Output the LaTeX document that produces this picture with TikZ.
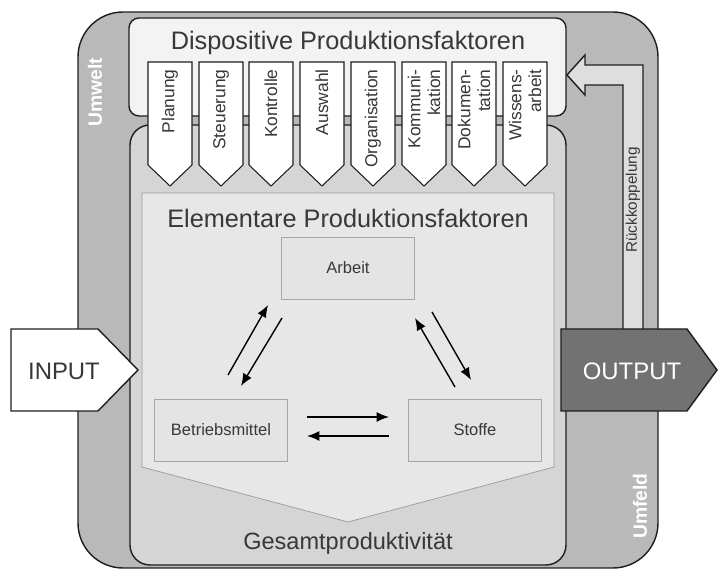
\documentclass[tikz,border=0pt]{standalone}
\usepackage{fontspec}
\setmainfont{Liberation Sans}
\usetikzlibrary{arrows.meta}
\definecolor{umwelt}{HTML}{B9B9B9}
\definecolor{dispo}{HTML}{F3F3F3}
\definecolor{inner}{HTML}{D5D5D5}
\definecolor{elem}{HTML}{E7E7E7}
\definecolor{elline}{HTML}{9A9A9A}
\definecolor{boxfill}{HTML}{E4E4E4}
\definecolor{boxline}{HTML}{A6A6A6}
\definecolor{outp}{HTML}{727272}
\definecolor{rueck}{HTML}{DEDEDE}
\definecolor{edge}{HTML}{1E1E1E}
\definecolor{txt}{HTML}{383838}

\begin{document}
\begin{tikzpicture}[x=0.02cm,y=-0.02cm]
\tikzstyle{every node}=[inner sep=0pt, text=txt]
\tikzstyle{frame}=[draw=edge, line width=0.8pt]
\tikzstyle{chev}=[draw=edge, line width=0.6pt, fill=white]
\tikzstyle{lbl}=[rotate=90, anchor=east, align=right, font=\fontsize{9.9}{11.3}\selectfont]
\tikzstyle{fbox}=[draw=boxline, fill=boxfill, minimum width=2.66cm, minimum height=1.24cm, font=\fontsize{9.4}{11}\selectfont]
\tikzstyle{title}=[font=\fontsize{14.4}{16}\selectfont]
\tikzstyle{pf}=[-{Latex[length=7pt,width=5.6pt]}, line width=0.8pt, draw=black]
\useasboundingbox (0,0) rectangle (718,570);
\draw[frame, fill=umwelt, rounded corners=0.9cm] (78,12) rectangle (658,568);
\draw[frame, fill=rueck] (623,329) -- (623,85) -- (585,85) -- (585,95) -- (567,75) -- (585,55) -- (585,65) -- (643,65) -- (643,329);
\draw[frame, fill=dispo, rounded corners=0.2cm] (129,18) rectangle (566,116);
\draw[frame, fill=inner, rounded corners=0.4cm] (130,125) rectangle (566,565);
\draw[draw=elline, line width=0.4pt, fill=elem] (142,193) -- (554,193) -- (554,467) -- (348,522) -- (142,467) -- cycle;
\draw[chev] (148,62) -- (192,62) -- (192,165) -- (170,186) -- (148,165) -- cycle;
\draw[chev] (199,62) -- (243,62) -- (243,165) -- (221,186) -- (199,165) -- cycle;
\draw[chev] (249,62) -- (293,62) -- (293,165) -- (271,186) -- (249,165) -- cycle;
\draw[chev] (300,62) -- (344,62) -- (344,165) -- (322,186) -- (300,165) -- cycle;
\draw[chev] (351,62) -- (395,62) -- (395,165) -- (373,186) -- (351,165) -- cycle;
\draw[chev] (402,62) -- (446,62) -- (446,165) -- (424,186) -- (402,165) -- cycle;
\draw[chev] (452,62) -- (496,62) -- (496,165) -- (474,186) -- (452,165) -- cycle;
\draw[chev] (503,62) -- (547,62) -- (547,165) -- (525,186) -- (503,165) -- cycle;
\node (plan) at (170,69) [lbl] {Planung};
\node (steu) at (221,69) [lbl] {Steuerung};
\node (kontr) at (271,69) [lbl] {Kontrolle};
\node (ausw) at (322,69) [lbl] {Auswahl};
\node (orga) at (373,69) [lbl] {Organisation};
\node (komm) at (424,69) [lbl] {Kommuni-\\kation};
\node (doku) at (474,69) [lbl] {Dokumen-\\tation};
\node (wiss) at (525,69) [lbl] {Wissens-\\arbeit};
\node (dispo) at (348,43) [title] {Dispositive Produktionsfaktoren};
\node (elem) at (348,218) [title] {Elementare Produktionsfaktoren};
\node (gesamt) at (348,543) [font=\fontsize{13.4}{15}\selectfont] {Gesamtproduktivität};
\node (arbeit) at (348,268) [fbox] {Arbeit};
\node (betrieb) at (221,430) [fbox] {Betriebsmittel};
\node (stoffe) at (475,430) [fbox] {Stoffe};
\coordinate (ba1) at (228,375);
\coordinate (ba2) at (268,305);
\coordinate (ab1) at (282,318);
\coordinate (ab2) at (241,386);
\coordinate (sa1) at (455,387);
\coordinate (sa2) at (415,318);
\coordinate (as1) at (432,312);
\coordinate (as2) at (471,380);
\coordinate (bs1) at (307,417);
\coordinate (bs2) at (389,417);
\coordinate (sb1) at (389,436);
\coordinate (sb2) at (307,436);
\draw[pf] (ba1) -- (ba2);
\draw[pf] (ab1) -- (ab2);
\draw[pf] (sa1) -- (sa2);
\draw[pf] (as1) -- (as2);
\draw[pf] (bs1) -- (bs2);
\draw[pf] (sb1) -- (sb2);
\draw[frame, fill=white] (11,329) -- (98,329) -- (138,370) -- (98,411) -- (11,411) -- cycle;
\draw[frame, fill=outp] (561,329) -- (687,329) -- (717,370) -- (687,411) -- (561,411) -- cycle;
\node (input) at (64,371) [font=\fontsize{13.6}{16}\selectfont] {INPUT};
\node (output) at (632,371) [text=white, font=\fontsize{13.6}{16}\selectfont] {OUTPUT};
\node (rueck) at (633,200) [rotate=90, font=\fontsize{8.7}{10}\selectfont] {Rückkoppelung};
\node (umwelt) at (95,92) [rotate=90, text=white, font=\bfseries\fontsize{11}{13}\selectfont] {Umwelt};
\node (umfeld) at (640,506) [rotate=90, text=white, font=\bfseries\fontsize{11}{13}\selectfont] {Umfeld};
\end{tikzpicture}
\end{document}
